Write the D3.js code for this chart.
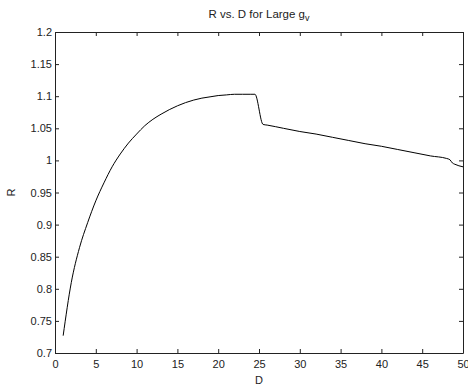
<!DOCTYPE html>
<html>
<head>
<meta charset="utf-8">
<script src="https://cdn.jsdelivr.net/npm/d3@7"></script>
<style>
  body { margin: 0; background: #fff; }
  svg { display: block; font-family: "Liberation Sans", Arial, sans-serif; }
  .axis text { font-size: 11px; fill: #222; }
  .axis path, .axis line { stroke: #222; }
</style>
</head>
<body>
<div id="chart"></div>
<script>
// D values and R values
const dValues = [1, 2, 3, 4, 5, 6, 7, 8, 9, 10, 11, 12, 13, 14, 15, 16, 17, 18, 19, 20,
  21, 22, 23, 24, 24.5, 25.5, 26, 28, 30, 32, 34, 36, 38, 40, 42, 44, 46, 48, 48.4, 48.7, 49, 50];
const rValues = [0.727, 0.810, 0.864, 0.903, 0.937, 0.965, 0.990, 1.010, 1.027, 1.041,
  1.054, 1.064, 1.072, 1.079, 1.085, 1.090, 1.094, 1.097, 1.099, 1.101,
  1.102, 1.103, 1.103, 1.103, 1.103, 1.056, 1.055, 1.050, 1.045, 1.041,
  1.036, 1.031, 1.026, 1.022, 1.017, 1.012, 1.007, 1.003, 1.001, 0.996, 0.994, 0.990];
const xTicks = [0, 5, 10, 15, 20, 25, 30, 35, 40, 45, 50];
const yTicks = [0.7, 0.75, 0.8, 0.85, 0.9, 0.95, 1, 1.05, 1.1, 1.15, 1.2];

const width = 468, height = 387;
const margin = { top: 32, right: 5, bottom: 34, left: 55 };
const innerW = width - margin.left - margin.right;
const innerH = height - margin.top - margin.bottom;

const svg = d3.select("#chart").append("svg")
  .attr("width", width)
  .attr("height", height);

const g = svg.append("g")
  .attr("transform", "translate(" + margin.left + "," + margin.top + ")");

const x = d3.scaleLinear().domain([0, 50]).range([0, innerW]);
const y = d3.scaleLinear().domain([0.7, 1.2]).range([innerH, 0]);

// bottom + left axes with labels, ticks pointing inward
g.append("g")
  .attr("class", "axis")
  .attr("transform", "translate(0," + innerH + ")")
  .call(d3.axisBottom(x).tickValues(xTicks).tickFormat(d3.format("d"))
    .tickSizeInner(-4).tickSizeOuter(0).tickPadding(7));

g.append("g")
  .attr("class", "axis")
  .call(d3.axisLeft(y).tickValues(yTicks).tickFormat(d => String(+d.toFixed(2)))
    .tickSizeInner(-4).tickSizeOuter(0).tickPadding(3));

// top + right axes, ticks only
g.append("g")
  .attr("class", "axis")
  .call(d3.axisTop(x).tickValues(xTicks).tickFormat("")
    .tickSizeInner(-4).tickSizeOuter(0));

g.append("g")
  .attr("class", "axis")
  .attr("transform", "translate(" + innerW + ",0)")
  .call(d3.axisRight(y).tickValues(yTicks).tickFormat("")
    .tickSizeInner(-4).tickSizeOuter(0));

// the curve
const pts = dValues.map((d, i) => [d, rValues[i]]);
g.append("path")
  .datum(pts)
  .attr("fill", "none")
  .attr("stroke", "#000")
  .attr("stroke-width", 1)
  .attr("d", d3.line().curve(d3.curveMonotoneX).x(d => x(d[0])).y(d => y(d[1])));

// title
const title = svg.append("text")
  .attr("x", margin.left + innerW / 2)
  .attr("y", 18)
  .attr("text-anchor", "middle")
  .attr("font-size", 11.5)
  .attr("fill", "#222");
title.append("tspan").text("R vs. D for Large g");
title.append("tspan").attr("dy", 3).attr("font-size", 9).text("v");

// axis labels
svg.append("text")
  .attr("x", margin.left + innerW / 2)
  .attr("y", 384)
  .attr("text-anchor", "middle")
  .attr("font-size", 11)
  .attr("fill", "#222")
  .text("D");

svg.append("text")
  .attr("transform", "translate(15," + (margin.top + innerH / 2) + ") rotate(-90)")
  .attr("text-anchor", "middle")
  .attr("font-size", 11)
  .attr("fill", "#222")
  .text("R");
</script>
</body>
</html>
